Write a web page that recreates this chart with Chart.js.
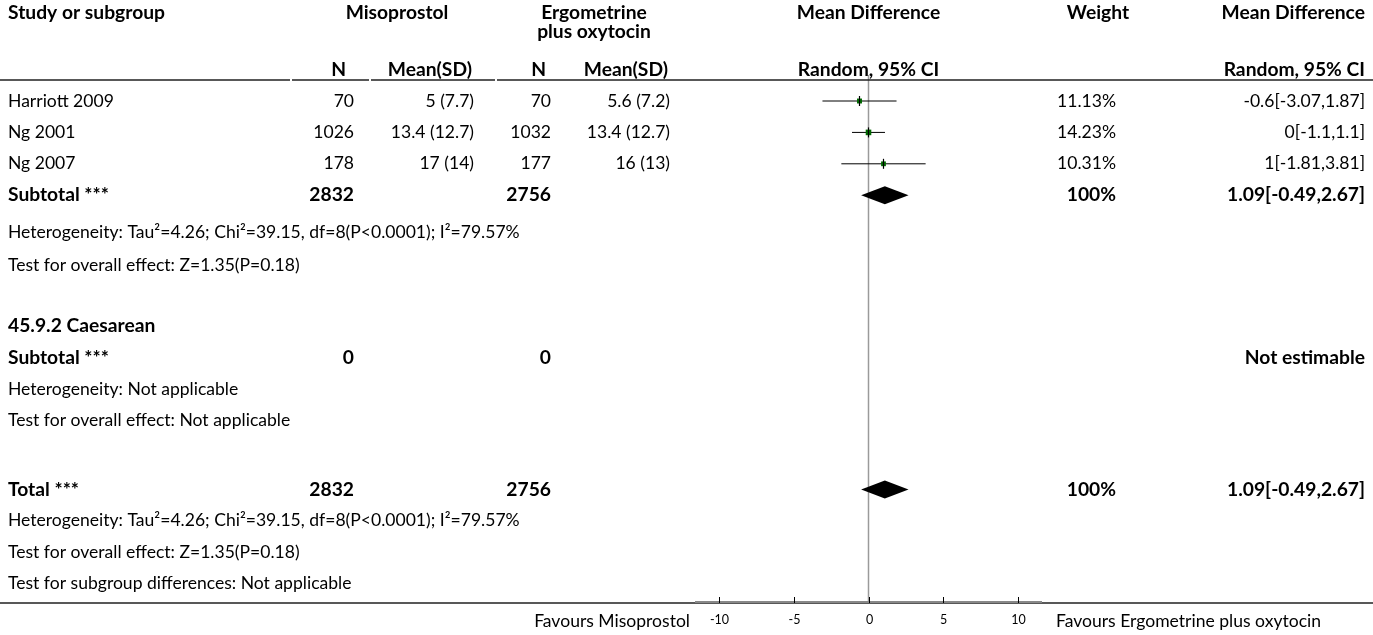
<!DOCTYPE html>
<html>
<head>
<meta charset="utf-8">
<script src="https://cdn.jsdelivr.net/npm/chart.js@4/dist/chart.umd.min.js"></script>
<style>
  html, body { margin: 0; padding: 0; background: #fff; }
  #forest { display: block; }
</style>
</head>
<body>
<canvas id="forest" width="1373" height="635"></canvas>
<script>
// study rows
var studies = ['Harriott 2009', 'Ng 2001', 'Ng 2007'];
var misoN = [70, 1026, 178];
var misoMeanSD = ['5 (7.7)', '13.4 (12.7)', '17 (14)'];
var ergoN = [70, 1032, 177];
var ergoMeanSD = ['5.6 (7.2)', '13.4 (12.7)', '16 (13)'];
var meanDiff = [-0.6, 0, 1];
var ciLow = [-3.07, -1.1, -1.81];
var ciHigh = [1.87, 1.1, 3.81];
var weights = [11.13, 14.23, 10.31];
var ciText = ['-0.6[-3.07,1.87]', '0[-1.1,1.1]', '1[-1.81,3.81]'];

// pooled result (subtotal 1 and total are the same)
var pooledMD = [1.09, 1.09];
var pooledLow = [-0.49, -0.49];
var pooledHigh = [2.67, 2.67];
var totalsMiso = [2832, 0, 2832];
var totalsErgo = [2756, 0, 2756];

var xTicks = [-10, -5, 0, 5, 10];

var hetText = 'Heterogeneity: Tau\u00b2=4.26; Chi\u00b2=39.15, df=8(P<0.0001); I\u00b2=79.57%';
var effText = 'Test for overall effect: Z=1.35(P=0.18)';

// row layout (in row units, 0 = first study)
var rowSub1 = 3, rowHet1 = 4.17, rowEff1 = 5.22;
var rowGrp2 = 7.17, rowSub2 = 8.17, rowHet2 = 9.17, rowEff2 = 10.17;
var rowTot = 12.37, rowHet3 = 13.37, rowEff3 = 14.37, rowDiff = 15.37;
var diamondRows = [rowSub1, rowTot];

var FONT = 'Lato, "Noto Sans", sans-serif';
var regSize = 14, boldSize = 14;

var datasets = [];
studies.forEach(function(name, i){
    datasets.push({
        data: [{x: ciLow[i], y: i}, {x: ciHigh[i], y: i}],
        showLine: true,
        borderColor: '#000',
        borderWidth: 1,
        pointRadius: 0,
        order: 3
    });
});
datasets.push({
    data: meanDiff.map(function(v, i){ return {x: v, y: i}; }),
    pointStyle: 'rect',
    pointRadius: weights.map(function(w){ return Math.sqrt(w) * 1.05; }),
    backgroundColor: '#006a00',
    borderWidth: 0,
    order: 2
});
datasets.push({
    data: meanDiff.map(function(v, i){ return {x: v, y: i}; }),
    pointStyle: 'line',
    rotation: 90,
    pointRadius: 5,
    borderColor: '#000',
    borderWidth: 1.2,
    order: 1
});

var forestPlugin = {
    id: 'forest',
    beforeDatasetsDraw: function(chart){
        var ctx = chart.ctx, xs = chart.scales.x, area = chart.chartArea;
        var x0 = xs.getPixelForValue(0);
        ctx.save();
        ctx.strokeStyle = '#9a9a9a';
        ctx.lineWidth = 1.5;
        ctx.beginPath();
        ctx.moveTo(x0, area.top - 5);
        ctx.lineTo(x0, area.bottom);
        ctx.stroke();
        ctx.restore();
    },
    afterDatasetsDraw: function(chart){
        var ctx = chart.ctx, xs = chart.scales.x, ys = chart.scales.y;
        ctx.save();
        ctx.fillStyle = '#000';
        diamondRows.forEach(function(r, k){
            var y = ys.getPixelForValue(r);
            ctx.beginPath();
            ctx.moveTo(xs.getPixelForValue(pooledLow[k]), y);
            ctx.lineTo(xs.getPixelForValue(pooledMD[k]), y - 9);
            ctx.lineTo(xs.getPixelForValue(pooledHigh[k]), y);
            ctx.lineTo(xs.getPixelForValue(pooledMD[k]), y + 9);
            ctx.closePath();
            ctx.fill();
        });
        ctx.restore();
    },
    afterDraw: function(chart){
        var ctx = chart.ctx, xs = chart.scales.x, ys = chart.scales.y, area = chart.chartArea;
        var W = chart.width;

        // size the fonts so the text runs as wide as in the source picture
        ctx.font = '100px ' + FONT;
        regSize = 100 * 512 / ctx.measureText(hetText).width;
        ctx.font = 'bold 100px ' + FONT;
        boldSize = 100 * 157 / ctx.measureText('Study or subgroup').width;

        function txt(s, x, y, align, bold, size){
            ctx.font = (bold ? 'bold ' : '') + (size || (bold ? boldSize : regSize)) + 'px ' + FONT;
            ctx.textAlign = align || 'left';
            ctx.fillText(s, x, y);
        }
        ctx.save();
        ctx.fillStyle = '#000';
        ctx.textBaseline = 'middle';

        // header
        txt('Study or subgroup', 8, 13, 'left', true);
        txt('Misoprostol', 397, 13, 'center', true);
        txt('Ergometrine', 594, 13, 'center', true);
        txt('plus oxytocin', 594, 32, 'center', true);
        txt('Mean Difference', xs.getPixelForValue(0), 13, 'center', true);
        txt('Weight', 1098, 13, 'center', true);
        txt('Mean Difference', 1365, 13, 'right', true);
        txt('N', 346, 70, 'right', true);
        txt('Mean(SD)', 472, 70, 'right', true);
        txt('N', 546, 70, 'right', true);
        txt('Mean(SD)', 668, 70, 'right', true);
        txt('Random, 95% CI', xs.getPixelForValue(0), 70, 'center', true);
        txt('Random, 95% CI', 1365, 70, 'right', true);

        ctx.strokeStyle = '#222';
        ctx.lineWidth = 1.6;
        ctx.beginPath();
        [[0, 290], [292, 369], [371, 495], [497, W]].forEach(function(seg){
            ctx.moveTo(seg[0], area.top);
            ctx.lineTo(seg[1], area.top);
        });
        ctx.moveTo(0, area.bottom);
        ctx.lineTo(W, area.bottom);
        ctx.stroke();

        // study rows
        studies.forEach(function(name, i){
            var y = ys.getPixelForValue(i);
            txt(name, 8, y);
            txt(String(misoN[i]), 354, y, 'right');
            txt(misoMeanSD[i], 474, y, 'right');
            txt(String(ergoN[i]), 551, y, 'right');
            txt(ergoMeanSD[i], 670, y, 'right');
            txt(weights[i].toFixed(2) + '%', 1116, y, 'right');
            txt(ciText[i], 1365, y, 'right');
        });

        var pooledText = pooledMD[0] + '[' + pooledLow[0] + ',' + pooledHigh[0] + ']';
        var y;
        y = ys.getPixelForValue(rowSub1);
        txt('Subtotal ***', 8, y, 'left', true);
        txt(String(totalsMiso[0]), 354, y, 'right', true);
        txt(String(totalsErgo[0]), 551, y, 'right', true);
        txt('100%', 1116, y, 'right', true);
        txt(pooledText, 1365, y, 'right', true);
        txt(hetText, 8, ys.getPixelForValue(rowHet1));
        txt(effText, 8, ys.getPixelForValue(rowEff1));

        txt('45.9.2 Caesarean', 8, ys.getPixelForValue(rowGrp2), 'left', true);
        y = ys.getPixelForValue(rowSub2);
        txt('Subtotal ***', 8, y, 'left', true);
        txt(String(totalsMiso[1]), 354, y, 'right', true);
        txt(String(totalsErgo[1]), 551, y, 'right', true);
        txt('Not estimable', 1365, y, 'right', true);
        txt('Heterogeneity: Not applicable', 8, ys.getPixelForValue(rowHet2));
        txt('Test for overall effect: Not applicable', 8, ys.getPixelForValue(rowEff2));

        y = ys.getPixelForValue(rowTot);
        txt('Total ***', 8, y, 'left', true);
        txt(String(totalsMiso[2]), 354, y, 'right', true);
        txt(String(totalsErgo[2]), 551, y, 'right', true);
        txt('100%', 1116, y, 'right', true);
        txt(pooledText, 1365, y, 'right', true);
        txt(hetText, 8, ys.getPixelForValue(rowHet3));
        txt(effText, 8, ys.getPixelForValue(rowEff3));
        txt('Test for subgroup differences: Not applicable', 8, ys.getPixelForValue(rowDiff));

        // x axis
        ctx.strokeStyle = '#888';
        ctx.lineWidth = 2;
        ctx.beginPath();
        ctx.moveTo(area.left, area.bottom - 1);
        ctx.lineTo(area.right, area.bottom - 1);
        ctx.stroke();
        ctx.strokeStyle = '#000';
        ctx.lineWidth = 1;
        xTicks.forEach(function(t){
            var x = Math.round(xs.getPixelForValue(t)) + 0.5;
            ctx.beginPath();
            ctx.moveTo(x, area.bottom - 6);
            ctx.lineTo(x, area.bottom);
            ctx.stroke();
            txt(String(t), x, area.bottom + 17, 'center', false, 12.5);
        });
        txt('Favours Misoprostol', 690, area.bottom + 18, 'right');
        txt('Favours Ergometrine plus oxytocin', 1056, area.bottom + 18, 'left');
        ctx.restore();
    }
};

var chart = new Chart(document.getElementById('forest'), {
    type: 'scatter',
    data: { datasets: datasets },
    options: {
        responsive: false,
        animation: false,
        devicePixelRatio: 1,
        layout: { padding: { left: 695, right: 331, top: 80, bottom: 32 } },
        scales: {
            x: { type: 'linear', display: false, min: -11.57, max: 11.57 },
            y: { type: 'linear', display: false, reverse: true, min: -0.669, max: 15.987 }
        },
        plugins: { legend: { display: false }, tooltip: { enabled: false } }
    },
    plugins: [forestPlugin]
});
</script>
</body>
</html>
